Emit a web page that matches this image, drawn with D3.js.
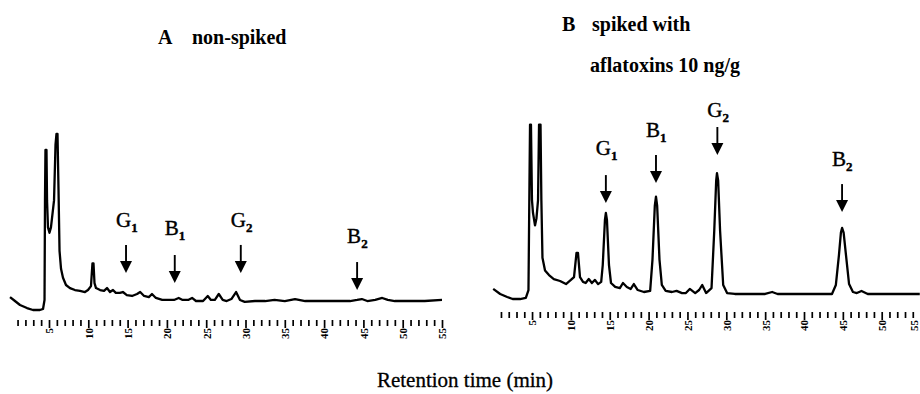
<!DOCTYPE html>
<html>
<head>
<meta charset="utf-8">
<script src="https://cdn.jsdelivr.net/npm/d3@7"></script>
<style>
  body { margin: 0; background: #fff; }
  svg { display: block; }
  .tick text { font-family: "Liberation Serif", "DejaVu Serif", serif; font-weight: bold; }
</style>
</head>
<body>
<div id="chart"></div>
<script>
// retention time (min) / detector response (arbitrary units)
const traceA = [
  [0.04, 8.3], [0.67, 6.1], [1.31, 3.9], [2.2, 2.2], [2.96, 1.1], [3.85, 1.1], [4.24, 1.7],
  [4.43, 6.7], [4.49, 62], [4.55, 90], [4.68, 90], [4.75, 62], [4.87, 47], [5.06, 44],
  [5.25, 47], [5.64, 62], [5.83, 93], [5.95, 99], [6.08, 99], [6.21, 68], [6.34, 34],
  [6.53, 24], [6.78, 19], [7.16, 15], [7.67, 13.3], [8.3, 12.2], [8.94, 11.7], [9.58, 11.1],
  [9.96, 12.2], [10.34, 14.4], [10.53, 27], [10.66, 27], [10.79, 16], [10.98, 13.3],
  [11.5, 12.2], [12.0, 11.7], [12.38, 13.3], [12.76, 11.1], [13.14, 12.2], [13.5, 10.6],
  [14.0, 10.6], [14.4, 11.1], [14.9, 9.4], [15.56, 8.9], [16.2, 10], [16.6, 11.1],
  [17.1, 8.9], [17.7, 8.3], [18.1, 10], [18.6, 7.8], [19.4, 6.7], [20.1, 6.7], [20.9, 6.7],
  [21.5, 7.8], [22.0, 6.7], [22.7, 6.7], [23.2, 7.8], [23.7, 6.1], [24.6, 6.1], [25.2, 8.9],
  [25.6, 6.7], [26.1, 6.7], [26.6, 10], [27.1, 6.7], [27.6, 6.1], [28.2, 7.2], [28.8, 11.1],
  [29.3, 6.7], [29.9, 5.6], [31.2, 6.1], [32.5, 6.1], [33.7, 6.7], [35.0, 6.1], [36.3, 7.2],
  [37.6, 6.1], [39.5, 6.1], [41.4, 6.1], [43.3, 6.1], [44.2, 6.7], [44.8, 7.2], [45.5, 6.1],
  [46.5, 6.7], [47.4, 7.8], [48.1, 6.7], [49.0, 6.1], [51.0, 6.1], [52.8, 6.1], [55.0, 6.7]
];

const traceB = [
  [0.0, 6.7], [0.9, 3.9], [1.8, 2.2], [2.5, 1.1], [3.45, 1.1], [4.2, 1.7], [4.54, 6.1],
  [4.67, 67], [4.74, 98], [4.86, 98], [4.99, 56], [5.12, 49], [5.38, 42], [5.57, 46],
  [5.77, 56], [5.9, 98], [6.09, 98], [6.2, 56], [6.34, 24], [6.67, 17], [7.18, 14.4],
  [7.8, 12.2], [8.6, 11.1], [9.37, 9.4], [10.0, 11.7], [10.4, 13.3], [10.72, 26.7],
  [10.91, 26.7], [11.17, 13.3], [11.56, 10.6], [11.9, 10], [12.3, 12.2], [12.7, 10],
  [13.1, 11.7], [13.5, 9.4], [13.9, 10.6], [14.1, 20], [14.38, 45], [14.5, 49], [14.64, 45],
  [14.9, 20], [15.16, 10], [15.7, 7.8], [16.3, 7.2], [16.7, 10], [17.2, 7.8], [17.7, 6.7],
  [18.1, 9.4], [18.6, 6.1], [19.4, 5], [20.2, 5.6], [20.5, 23], [20.8, 53], [20.95, 58],
  [21.1, 53], [21.4, 23], [21.7, 8.9], [22.2, 5.6], [23.0, 5], [23.6, 5.6], [24.3, 4.4],
  [24.8, 4.4], [25.3, 6.7], [26.0, 4.4], [26.5, 6.1], [26.9, 8.9], [27.4, 4.4], [28.1, 7.2],
  [28.45, 39], [28.7, 67], [28.8, 71], [28.95, 67], [29.2, 39], [29.6, 8.9], [30.1, 4.4],
  [31.1, 3.9], [33.0, 3.9], [35.0, 3.9], [35.9, 5], [36.6, 3.9], [38.8, 3.9], [41.4, 3.9],
  [43.6, 3.9], [44.1, 8.9], [44.5, 25.6], [44.75, 38], [44.9, 40.6], [45.1, 38], [45.4, 25.6],
  [45.8, 9.4], [46.3, 5], [46.8, 4.4], [47.4, 5.6], [48.2, 3.9], [49.8, 3.9], [52.3, 3.9],
  [54.9, 3.9]
];

// peak markers: name, subscript, retention time, arrow tip level
const arrowsA = [
  { name: 'G', sub: '1', t: 14.8, tip: 21.7 },
  { name: 'B', sub: '1', t: 21.0, tip: 16.1 },
  { name: 'G', sub: '2', t: 29.4, tip: 21.7 },
  { name: 'B', sub: '2', t: 44.2, tip: 12.2 }
];
const arrowsB = [
  { name: 'G', sub: '1', t: 14.5, tip: 54.4 },
  { name: 'B', sub: '1', t: 20.95, tip: 65.6 },
  { name: 'G', sub: '2', t: 28.85, tip: 81.1 },
  { name: 'B', sub: '2', t: 44.9, tip: 49.4 }
];

const tickValues = d3.range(1, 56);
const labelTicks = [5, 10, 15, 20, 25, 30, 35, 40, 45, 50, 55];

const width = 920, height = 394;
const serif = '"Liberation Serif", "DejaVu Serif", serif';

const svg = d3.select('#chart')
  .append('svg')
  .attr('width', width)
  .attr('height', height);

function drawPanel(trace, arrows, x, y, axisY, labelGaps) {
  const g = svg.append('g');

  // axis with a tick every minute, labels every 5
  const axis = d3.axisBottom(x)
    .tickValues(tickValues)
    .tickSize(6)
    .tickFormat(d => labelTicks.includes(d) ? d : '');

  const axisGroup = g.append('g')
    .attr('transform', `translate(0, ${axisY})`)
    .call(axis)
    .call(a => a.select('.domain').remove());

  axisGroup.selectAll('.tick line')
    .attr('stroke', '#000')
    .attr('stroke-width', 1.7)
    .attr('y2', d => labelTicks.includes(d) ? 8 : 6);

  // rotated labels; keep the last one inside the page
  axisGroup.selectAll('.tick text')
    .attr('font-size', 11)
    .attr('fill', '#000')
    .attr('text-anchor', 'end')
    .attr('transform', d => {
      const shift = x(d) + 6 > width ? width - 6 - x(d) : 0;
      return `translate(${shift}, 7) rotate(-90)`;
    })
    .attr('x', -1)
    .attr('y', 0)
    .attr('dy', '0.35em');

  // chromatogram trace
  const line = d3.line()
    .x(d => x(d[0]))
    .y(d => y(d[1]));

  g.append('path')
    .datum(trace)
    .attr('d', line)
    .attr('fill', 'none')
    .attr('stroke', '#000')
    .attr('stroke-width', 2.3)
    .attr('stroke-linejoin', 'round');

  // arrows with peak names
  const shaft = 28, headH = 12, headW = 12;
  const mk = g.selectAll('g.marker')
    .data(arrows)
    .join('g')
    .attr('class', 'marker')
    .attr('transform', d => `translate(${x(d.t)}, ${y(d.tip)})`);

  mk.append('line')
    .attr('y1', -shaft)
    .attr('y2', -headH + 1)
    .attr('stroke', '#000')
    .attr('stroke-width', 1.9);

  mk.append('path')
    .attr('d', `M0,0L${-headW / 2},${-headH}L${headW / 2},${-headH}Z`)
    .attr('fill', '#000');

  const lbl = mk.append('text')
    .attr('x', -10)
    .attr('y', (d, i) => -shaft - labelGaps[i])
    .attr('font-family', serif)
    .attr('font-size', 21)
    .attr('fill', '#000')
    .attr('stroke', '#000')
    .attr('stroke-width', 0.4);

  lbl.append('tspan').text(d => d.name);
  lbl.append('tspan')
    .attr('font-size', 13)
    .attr('font-weight', 'bold')
    .attr('dy', 5)
    .text(d => d.sub);
}

const xA = d3.scaleLinear().domain([0, 55]).range([9.7, 9.7 + 7.86 * 55]);
const yA = d3.scaleLinear().domain([0, 100]).range([312, 132]);
drawPanel(traceA, arrowsA, xA, yA, 320, [18, 20, 18, 19]);

const xB = d3.scaleLinear().domain([0, 55]).range([493.2, 493.2 + 7.77 * 55]);
const yB = d3.scaleLinear().domain([0, 100]).range([301, 121]);
drawPanel(traceB, arrowsB, xB, yB, 312, [20, 18, 10, 18]);

// titles
const title = (x, y, txt) => svg.append('text')
  .attr('x', x).attr('y', y)
  .attr('font-family', serif)
  .attr('font-weight', 'bold')
  .attr('font-size', 20)
  .attr('fill', '#000')
  .text(txt);

title(158, 44, 'A');
title(192, 44, 'non-spiked');
title(562, 31, 'B');
title(592, 31, 'spiked with');
title(590, 72, 'aflatoxins 10 ng/g');

svg.append('text')
  .attr('x', 465)
  .attr('y', 387)
  .attr('text-anchor', 'middle')
  .attr('font-family', serif)
  .attr('font-size', 21)
  .attr('fill', '#000')
  .attr('stroke', '#000')
  .attr('stroke-width', 0.3)
  .text('Retention time (min)');
</script>
</body>
</html>
